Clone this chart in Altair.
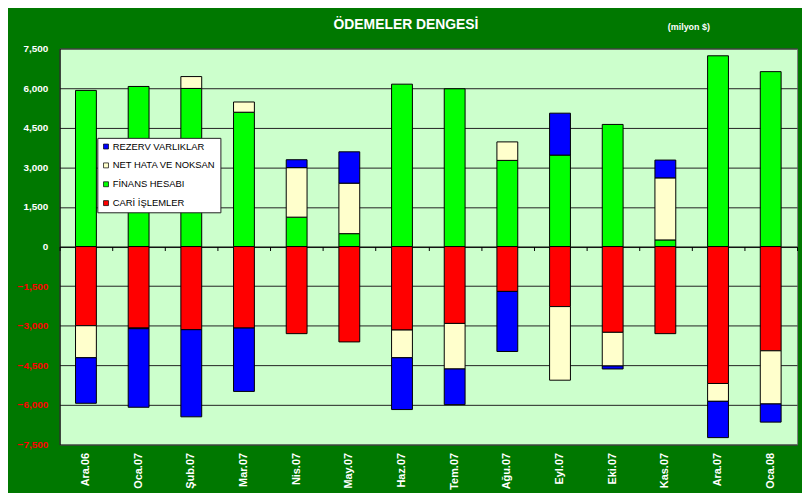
import altair as alt
import pandas as pd

categories = ["Ara.06", "Oca.07", "Şub.07", "Mar.07", "Nis.07", "May.07", "Haz.07",
              "Tem.07", "Ağu.07", "Eyl.07", "Eki.07", "Kas.07", "Ara.07", "Oca.08"]
cari = [-3000, -3088, -3150, -3088, -3300, -3613, -3163, -2913, -1700, -2275, -3250, -3300, -5188, -3950]
finans = [5913, 6063, 5988, 5088, 1113, 488, 6150, 5975, 3263, 3463, 4625, 250, 7225, 6625]
net_hata = [-1213, -25, 450, 387, 1875, 1912, -1050, -1725, 700, -2788, -1275, 2350, -675, -2013]
rezerv = [-1725, -2975, -3300, -2400, 300, 1188, -1962, -1350, -2275, 1588, -113, 675, -1375, -688]

series_names = ["CARİ İŞLEMLER", "FİNANS HESABI", "NET HATA VE NOKSAN", "REZERV VARLIKLAR"]
series_values = [cari, finans, net_hata, rezerv]
legend_order = ["REZERV VARLIKLAR", "NET HATA VE NOKSAN", "FİNANS HESABI", "CARİ İŞLEMLER"]
legend_colors = ["#0000FF", "#FFFFCC", "#00FF00", "#FF0000"]
y_ticks = [-7500, -6000, -4500, -3000, -1500, 0, 1500, 3000, 4500, 6000, 7500]

title_text = "ÖDEMELER DENGESİ"
unit_text = "(milyon $)"

rows = []
for k, (name, vals) in enumerate(zip(series_names, series_values)):
    for c, v in zip(categories, vals):
        rows.append({"ay": c, "seri": name, "deger": v, "sira": k})
df = pd.DataFrame(rows)

FONT = "Liberation Sans"

bars = alt.Chart(df).mark_bar(size=21, stroke="black", strokeWidth=1).encode(
    x=alt.X("ay:N", sort=categories, title=None,
            scale=alt.Scale(paddingInner=0, paddingOuter=0),
            axis=alt.Axis(orient="bottom", labelAngle=-90, labelColor="white", labelFont=FONT,
                          labelFontSize=11, labelFontWeight="bold", labelPadding=8,
                          ticks=False, domain=False, grid=False)),
    y=alt.Y("deger:Q", stack="zero", title=None,
            scale=alt.Scale(domain=[-7500, 7500], nice=False, zero=False),
            axis=alt.Axis(values=y_ticks, format=",.0f", ticks=False, labelPadding=12,
                          labelFont=FONT, labelFontSize=10, labelFontWeight="bold",
                          labelColor=alt.condition("datum.value < 0", alt.value("#FF0000"), alt.value("white")),
                          domain=True, domainColor="black", domainWidth=1,
                          grid=True, gridColor="#222222", gridWidth=1)),
    color=alt.Color("seri:N", scale=alt.Scale(domain=legend_order, range=legend_colors),
                    legend=alt.Legend(title=None, orient="none", legendX=38, legendY=90,
                                      fillColor="white", strokeColor="#222222", padding=4,
                                      rowPadding=8, symbolType="square", symbolSize=25,
                                      symbolStrokeWidth=0.7, labelFont=FONT, labelFontSize=9.5,
                                      labelColor="black", labelOffset=2)),
    order=alt.Order("sira:Q", sort="ascending"),
)

ticks_layer = alt.Chart(df).mark_tick(opacity=0).encode(
    x=alt.X("ay:N", sort=categories, title=None,
            axis=alt.Axis(orient="bottom", offset=-199.5, labels=False, ticks=True,
                          tickBand="extent", tickSize=4, tickColor="black",
                          domain=True, domainColor="black", grid=False)),
)

title_layer = alt.Chart(pd.DataFrame({"t": [title_text]})).mark_text(
    font=FONT, fontSize=14, fontWeight="bold", color="white", align="center", baseline="middle"
).encode(text="t:N", x=alt.value(349), y=alt.value(-24))

unit_layer = alt.Chart(pd.DataFrame({"t": [unit_text]})).mark_text(
    font=FONT, fontSize=9, fontWeight="bold", color="white", align="center", baseline="middle"
).encode(text="t:N", x=alt.value(634), y=alt.value(-22))

chart = alt.layer(bars, ticks_layer, title_layer, unit_layer).resolve_axis(
    x="independent"
).properties(
    width=743, height=399,
    autosize=alt.AutoSizeParams(type="none"),
    padding={"left": 52, "top": 39, "right": 5, "bottom": 47},
    background="#007800",
).configure_view(fill="#CCFFCC", stroke="#808080", strokeWidth=1)

chart.save("out.html", embed_options={"renderer": "svg", "actions": False})
